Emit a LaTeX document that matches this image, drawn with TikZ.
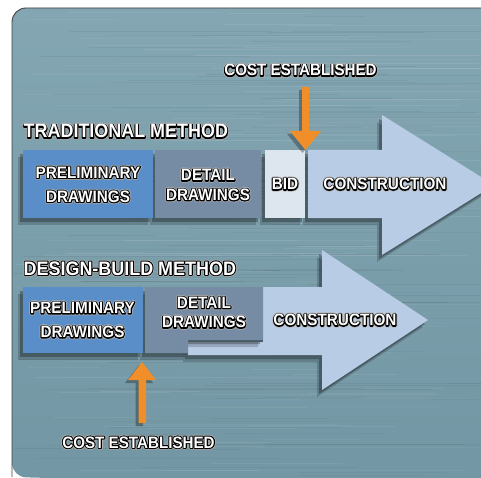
\documentclass[tikz,border=0pt]{standalone}
\usepackage{fontspec}
\setmainfont{Liberation Sans}
\newfontfamily\labfont{Liberation Sans}[FakeStretch=0.92]
\usetikzlibrary{shadows}

\definecolor{panelA}{RGB}{132,166,179}
\definecolor{panelB}{RGB}{114,150,163}
\definecolor{prelim}{RGB}{90,142,200}
\definecolor{detail}{RGB}{118,140,165}
\definecolor{bidc}{RGB}{221,229,238}
\definecolor{constr}{RGB}{184,204,229}
\definecolor{orng}{RGB}{240,143,42}

% white lettering with a dark outline: stroked copies below, the filled text on top
\newcommand\olab[1]{{%
  \rlap{\color{black!30}\special{pdf:literal direct 3.6 w 1 j 1 Tr}#1\special{pdf:literal direct 0 Tr}}%
  \rlap{\color{black}\special{pdf:literal direct 2.1 w 1 j 1 Tr}#1\special{pdf:literal direct 0 Tr}}%
  \color{white}#1}}

\tikzset{
  softshadow/.style={
    drop shadow={shadow xshift=-5pt, shadow yshift=-7pt, fill=black, opacity=0.18},
    drop shadow={shadow xshift=-3pt, shadow yshift=-4pt, fill=black, opacity=0.28}},
  blockbox/.style={draw=none, inner sep=0pt, softshadow},
  boxtext/.style={align=center, inner sep=0pt,
    font=\labfont\bfseries\fontsize{16.6}{24}\selectfont},
  boxtextB/.style={boxtext, font=\labfont\bfseries\fontsize{16.6}{19.5}\selectfont},
  headtext/.style={inner sep=0pt, font=\labfont\bfseries\fontsize{19.5}{21}\selectfont},
  costtext/.style={inner sep=0pt, font=\labfont\bfseries\fontsize{16.5}{18}\selectfont},
}

\begin{document}
\begin{tikzpicture}[x=1pt, y=-1pt]
\useasboundingbox (0,0) rectangle (481,478);
\fill[white] (0,0) rectangle (481,478);

% brushed steel panel
\shade[top color=panelA, bottom color=panelB, rounded corners=14pt]
  (12,477) -- (12,8) -- (495,8) -- (495,490) -- cycle;
\begin{scope}
  \clip[rounded corners=14pt] (12,477) -- (12,8) -- (495,8) -- (495,490) -- cycle;
  \pgfmathsetseed{7}
  \foreach \i in {1,...,160}{
    \pgfmathsetmacro\yy{10+rnd*466}
    \pgfmathsetmacro\xa{12+rnd*300}
    \pgfmathsetmacro\ll{60+rnd*260}
    \pgfmathsetmacro\op{0.03+rnd*0.05}
    \draw[white, opacity=\op, line width=0.6pt] (\xa,\yy) -- ++(\ll,0);
  }
  \foreach \i in {1,...,120}{
    \pgfmathsetmacro\yy{10+rnd*466}
    \pgfmathsetmacro\xa{12+rnd*300}
    \pgfmathsetmacro\ll{60+rnd*260}
    \pgfmathsetmacro\op{0.02+rnd*0.04}
    \draw[black, opacity=\op, line width=0.6pt] (\xa,\yy) -- ++(\ll,0);
  }
\end{scope}
\draw[black!75, line width=0.9pt, rounded corners=14pt]
  (12,477) -- (12,8) -- (495,8);

% ---------------- traditional method ----------------
\node[headtext, anchor=base west] (thead) at (23.5,138) {\olab{TRADITIONAL METHOD}};

\fill[constr, softshadow]
  (308,150) -- (382,150) -- (382,115) -- (494,185) -- (382,255) -- (382,218) -- (308,218) -- cycle;
\node[boxtext] (tcon) at (385,184) {\olab{CONSTRUCTION}};

\node[blockbox, fill=bidc, minimum width=40pt, minimum height=68pt] (tbid) at (285,184) {};
\node[boxtext] at (tbid) {\olab{BID}};

\node[blockbox, fill=detail, minimum width=106pt, minimum height=68pt] (tdet) at (208,184) {};
\node[boxtextB] (tdettxt) at (208,185) {\olab{DETAIL}\\\olab{DRAWINGS}};

\node[blockbox, fill=prelim, minimum width=130pt, minimum height=68pt] (tprel) at (88,184) {};
\node[boxtext] (tpreltxt) at (88,184.5) {\olab{PRELIMINARY}\\\olab{DRAWINGS}};

\node[costtext, anchor=base] (tcost) at (300.5,76) {\olab{COST ESTABLISHED}};
\coordinate (tmark) at (305.5,150);
\fill[orng, drop shadow={shadow xshift=-3pt, shadow yshift=-3pt, fill=black, opacity=0.3}]
  (302,87) -- (309,87) -- (309,131) -- (321,131) -- (tmark) -- (290,131) -- (302,131) -- cycle;

% ---------------- design-build method ----------------
\node[headtext, anchor=base west] (bhead) at (23.5,275) {\olab{DESIGN-BUILD METHOD}};

\fill[constr, softshadow]
  (188,342) -- (263,342) -- (263,287) -- (322,287) -- (322,250) -- (428,320)
  -- (322,390) -- (322,355) -- (188,355) -- cycle;
\node[boxtext] (bcon) at (335,320) {\olab{CONSTRUCTION}};

\fill[detail, softshadow]
  (145,287) -- (263,287) -- (263,340) -- (188,340) -- (188,353) -- (145,353) -- cycle;
\node[boxtextB] (bdettxt) at (204,312.5) {\olab{DETAIL}\\\olab{DRAWINGS}};

\node[blockbox, fill=prelim, minimum width=120pt, minimum height=66pt] (bprel) at (83,320) {};
\node[boxtext] (bpreltxt) at (82.5,320) {\olab{PRELIMINARY}\\\olab{DRAWINGS}};

\coordinate (bmark) at (142,362);
\fill[orng, drop shadow={shadow xshift=-3pt, shadow yshift=-3pt, fill=black, opacity=0.3}]
  (bmark) -- (156,380) -- (146,380) -- (146,423) -- (138.5,423) -- (138.5,380) -- (128,380) -- cycle;
\node[costtext, anchor=base] (bcost) at (138.5,448) {\olab{COST ESTABLISHED}};
\end{tikzpicture}
\end{document}
